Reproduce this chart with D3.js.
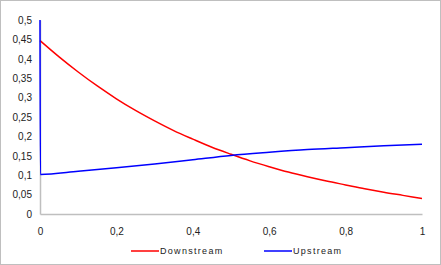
<!DOCTYPE html>
<html>
<head>
<meta charset="utf-8">
<script src="https://cdn.jsdelivr.net/npm/d3@7"></script>
<style>
  body { margin: 0; background: #fff; }
  text { font-family: "Liberation Sans", "DejaVu Sans", sans-serif; fill: #222; }
</style>
</head>
<body>
<script>
// series
var downX = [0, 0.05, 0.1, 0.15, 0.2, 0.25, 0.3, 0.35, 0.4, 0.45, 0.5, 0.55, 0.6, 0.65, 0.7, 0.75, 0.8, 0.85, 0.9, 0.95, 1];
var downY = [0.447, 0.405, 0.366, 0.330, 0.297, 0.267, 0.240, 0.215, 0.193, 0.172, 0.154, 0.137, 0.122, 0.108, 0.096, 0.085, 0.075, 0.065, 0.056, 0.048, 0.040];
var upX = [0, 0.001, 0.1, 0.2, 0.3, 0.4, 0.5, 0.6, 0.7, 0.8, 0.9, 1];
var upY = [0.5, 0.102, 0.110, 0.119, 0.129, 0.140, 0.151, 0.159, 0.166, 0.171, 0.176, 0.180];
var yTicks = [0, 0.05, 0.1, 0.15, 0.2, 0.25, 0.3, 0.35, 0.4, 0.45, 0.5];
var xTicks = [0, 0.2, 0.4, 0.6, 0.8, 1];
var seriesNames = ["Downstream", "Upstream"];
var colors = ["#ff0000", "#0000ff"];

var width = 441, height = 265;
var fmt = function(v){ return String(+v.toFixed(2)).replace(".", ","); };

var svg = d3.select("body").append("svg")
    .attr("width", width)
    .attr("height", height);

// outer chart border
svg.append("rect")
    .attr("x", 0.5).attr("y", 0.5)
    .attr("width", width - 1).attr("height", height - 1)
    .attr("fill", "none").attr("stroke", "#bfbfbf");

var x = d3.scaleLinear().domain([0, 1]).range([40, 422]);
var y = d3.scaleLinear().domain([0, 0.5]).range([214, 20]);

// axes
var xAxis = svg.append("g")
    .attr("transform", "translate(0," + y(0) + ")")
    .call(d3.axisBottom(x).tickValues(xTicks).tickSize(0).tickPadding(14).tickFormat(fmt));
xAxis.select(".domain").attr("stroke", "#bfbfbf").attr("stroke-width", 1.5);
xAxis.selectAll("text").style("font-size", "10px");

var yAxis = svg.append("g")
    .attr("transform", "translate(" + x(0) + ",0)")
    .call(d3.axisLeft(y).tickValues(yTicks).tickSize(0).tickPadding(8).tickFormat(fmt));
yAxis.select(".domain").attr("stroke", "#bfbfbf").attr("stroke-width", 1.5);
yAxis.selectAll("text").style("font-size", "10px");

var line = d3.line()
    .x(function(d){ return x(d[0]); })
    .y(function(d){ return y(d[1]); })
    .curve(d3.curveMonotoneX);

var series = [d3.zip(downX, downY), d3.zip(upX, upY)];

svg.append("g").selectAll("path")
    .data(series)
    .enter()
    .append("path")
    .attr("d", line)
    .attr("fill", "none")
    .attr("stroke", function(d, i){ return colors[i]; })
    .attr("stroke-width", 1.5);

// legend
var legend = svg.append("g").selectAll("g")
    .data(seriesNames)
    .enter()
    .append("g")
    .attr("transform", function(d, i){ return "translate(" + (131 + i * 133) + ",251)"; });
legend.append("line")
    .attr("x1", 0).attr("x2", 28)
    .attr("stroke", function(d, i){ return colors[i]; })
    .attr("stroke-width", 1.5);
legend.append("text")
    .attr("x", 29)
    .attr("dy", "0.35em")
    .style("font-size", "9px")
    .style("letter-spacing", "1.3px")
    .text(function(d){ return d; });
</script>
</body>
</html>
